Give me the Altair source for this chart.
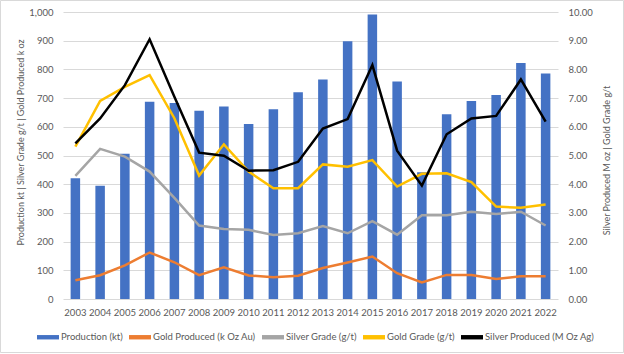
import altair as alt
import pandas as pd

years = [str(y) for y in range(2003, 2023)]
production = [421, 395, 506, 687, 683, 656, 671, 610, 661, 720, 765, 898, 991, 758, 442, 644, 690, 711, 822, 786]
gold_produced = [65, 83, 117, 162, 128, 83, 110, 82, 76, 81, 108, 127, 148, 90, 58, 84, 84, 70, 79, 79]
silver_grade = [429, 523, 496, 444, 352, 256, 244, 241, 223, 229, 254, 229, 271, 224, 292, 292, 304, 296, 304, 256]
gold_grade = [5.31, 6.90, 7.39, 7.80, 6.30, 4.30, 5.39, 4.44, 3.86, 3.86, 4.69, 4.61, 4.84, 3.92, 4.36, 4.38, 4.07, 3.22, 3.18, 3.29]
silver_produced = [5.42, 6.29, 7.45, 9.05, 7.05, 5.10, 4.99, 4.47, 4.49, 4.78, 5.94, 6.27, 8.15, 5.17, 3.95, 5.74, 6.29, 6.38, 7.65, 6.18]

series_names = ["Production (kt)", "Gold Produced (k Oz Au)", "Silver Grade (g/t)",
                "Gold Grade (g/t)", "Silver Produced (M Oz Ag)"]
series_colors = ["#4472C4", "#ED7D31", "#A5A5A5", "#FFC000", "#000000"]

bar_df = pd.DataFrame({"year": years, "value": production, "series": series_names[0]})
left_df = pd.concat([
    pd.DataFrame({"year": years, "value": gold_produced, "series": series_names[1]}),
    pd.DataFrame({"year": years, "value": silver_grade, "series": series_names[2]}),
])
right_df = pd.concat([
    pd.DataFrame({"year": years, "value": gold_grade, "series": series_names[3]}),
    pd.DataFrame({"year": years, "value": silver_produced, "series": series_names[4]}),
])

FONT = "Lato"
GRAY = "#595959"

x_enc = alt.X("year:N", sort=years, title=None,
              scale=alt.Scale(paddingInner=0.62, paddingOuter=0.31),
              axis=alt.Axis(labelAngle=0, ticks=False, domain=False, labelPadding=8,
                            labelFont=FONT, labelFontSize=9.5, labelColor=GRAY))

color_scale = alt.Scale(domain=series_names, range=series_colors)

left_y = alt.Y("value:Q", scale=alt.Scale(domain=[0, 1000], nice=False),
               axis=alt.Axis(values=list(range(0, 1001, 100)), format=",d",
                             title="Production kt | Silver Grade g/t | Gold Produced k oz",
                             titleX=-43, titleY=130, titleBaseline="middle",
                             titleFont=FONT, titleFontSize=9, titleFontWeight="normal", titleColor=GRAY,
                             labelFont=FONT, labelFontSize=9.5, labelColor=GRAY, labelPadding=10,
                             ticks=False, domain=False, grid=True, gridColor="#D9D9D9", gridWidth=1))

right_y = alt.Y("value:Q", scale=alt.Scale(domain=[0, 10], nice=False),
                axis=alt.Axis(orient="right", values=list(range(0, 11)), format=".2f",
                              title="Silver Produced M oz | Gold Grade g/t",
                              titleX=48, titleY=148, titleBaseline="middle", titleAngle=270,
                              titleFont=FONT, titleFontSize=9, titleFontWeight="normal", titleColor=GRAY,
                              labelFont=FONT, labelFontSize=9.5, labelColor=GRAY, labelPadding=10,
                              ticks=False, domain=False, grid=False))

frame = alt.Chart(pd.DataFrame({"f": [0]})).mark_rect(
    fill=None, stroke="#D9D9D9", strokeWidth=1
).encode(
    x=alt.value(-62.5), x2=alt.value(560.5), y=alt.value(-11.5), y2=alt.value(340.5)
)

bars = alt.Chart(bar_df).mark_bar(size=9.5).encode(
    x=x_enc,
    y=left_y,
    color=alt.Color("series:N", scale=color_scale,
                    legend=alt.Legend(title=None, orient="none", direction="horizontal",
                                      legendX=-26, legendY=314,
                                      symbolType="M-1,-0.2H1V0.2H-1Z", symbolSize=484,
                                      symbolStrokeWidth=0, labelOffset=2, columnPadding=6,
                                      labelFont=FONT, labelFontSize=9.5, labelColor=GRAY)),
)

left_lines = alt.Chart(left_df).mark_line(strokeWidth=2.5).encode(
    x=x_enc,
    y=left_y,
    color=alt.Color("series:N", scale=color_scale, legend=None),
    detail="series:N",
)

right_lines = alt.Chart(right_df).mark_line(strokeWidth=2.5).encode(
    x=x_enc,
    y=right_y,
    color=alt.Color("series:N", scale=color_scale, legend=None),
    detail="series:N",
)

left_layer = alt.layer(bars, left_lines)
chart = alt.layer(left_layer, right_lines, frame).resolve_scale(y="independent").properties(
    width=495, height=287,
    padding={"left": 63, "top": 12, "right": 66, "bottom": 55},
    autosize=alt.AutoSizeParams(type="none"),
    background="white",
).configure_view(stroke=None)

chart.save("out.html", embed_options={"renderer": "svg", "actions": False})
